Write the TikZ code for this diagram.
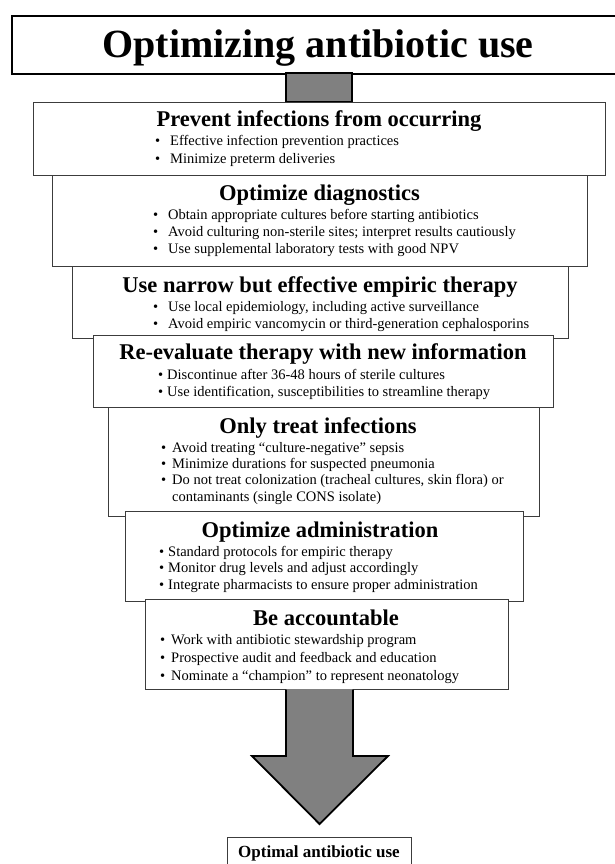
\documentclass[tikz,border=0pt]{standalone}
\usepackage{fontspec}
\setmainfont{Liberation Serif}
\definecolor{boxgray}{RGB}{60,60,60}
\definecolor{arrowgray}{RGB}{128,128,128}
\newcommand\itm[4]{\node[itm] (#1) at (#2) {\makebox[#3pt][l]{•}#4};}
\begin{document}
\begin{tikzpicture}[x=1pt,y=-1pt,
  stepbox/.style={draw=boxgray, line width=1.2pt, fill=white, inner sep=0pt, anchor=north west},
  head/.style={font=\fontsize{22.5}{27}\selectfont\bfseries, anchor=base, inner sep=0pt},
  itm/.style={font=\fontsize{14.5}{17}\selectfont, anchor=base west, inner sep=0pt},
  blockarrow/.style={fill=arrowgray, draw=black, line width=1.8pt, line join=miter}
]
\useasboundingbox (0,0) rectangle (614,864);
\fill[white] (0,0) rectangle (614,864);

% title
\node[draw=black, line width=2pt, fill=white, inner sep=0pt, anchor=north west,
      minimum width=612, minimum height=58] (title) at (11,15) {};
\node[font=\fontsize{40}{48}\selectfont\bfseries, anchor=base, inner sep=0pt] (ttext) at (318,58) {Optimizing antibiotic use};

% stem
\draw[blockarrow, line width=1.5pt] (286,73) rectangle (352,102);

% box 1
\node[stepbox, minimum width=572, minimum height=73] (b1) at (33,102) {};
\node[head] (h1) at (319,127) {Prevent infections from occurring};
\itm{b1a}{155,146}{15}{Effective infection prevention practices}
\itm{b1b}{155,163}{15}{Minimize preterm deliveries}

% box 2
\node[stepbox, minimum width=535, minimum height=91] (b2) at (52,175) {};
\node[head] (h2) at (319.5,200) {Optimize diagnostics};
\itm{b2a}{153,219}{15}{Obtain appropriate cultures before starting antibiotics}
\itm{b2b}{153,236}{15}{Avoid culturing non-sterile sites; interpret results cautiously}
\itm{b2c}{153,253}{15}{Use supplemental laboratory tests with good NPV}

% box 3
\node[stepbox, minimum width=496, minimum height=72] (b3) at (72,266) {};
\node[head] (h3) at (320,292) {Use narrow but effective empiric therapy};
\itm{b3a}{153,311}{15}{Use local epidemiology, including active surveillance}
\itm{b3b}{153,328}{15}{Avoid empiric vancomycin or third-generation cephalosporins}

% box 4
\node[stepbox, minimum width=460, minimum height=72] (b4) at (93,335) {};
\node[head] (h4) at (323,359) {Re-evaluate therapy with new information};
\itm{b4a}{158,379}{9}{Discontinue after 36-48 hours of sterile cultures}
\itm{b4b}{158,396}{9}{Use identification, susceptibilities to streamline therapy}

% box 5
\node[stepbox, minimum width=431, minimum height=109] (b5) at (108,407) {};
\node[head] (h5) at (318,433) {Only treat infections};
\itm{b5a}{161,452}{11}{Avoid treating “culture-negative” sepsis}
\itm{b5b}{161,468}{11}{Minimize durations for suspected pneumonia}
\itm{b5c}{161,484}{11}{Do not treat colonization (tracheal cultures, skin flora) or}
\node[itm] (b5d) at (172,501) {contaminants (single CONS isolate)};

% box 6
\node[stepbox, minimum width=398, minimum height=90] (b6) at (125,511) {};
\node[head] (h6) at (320,537) {Optimize administration};
\itm{b6a}{159,556}{9}{Standard protocols for empiric therapy}
\itm{b6b}{159,572}{9}{Monitor drug levels and adjust accordingly}
\itm{b6c}{159,589}{9}{Integrate pharmacists to ensure proper administration}

% box 7
\node[stepbox, minimum width=363, minimum height=90] (b7) at (145,599) {};
\node[head] (h7) at (326,625) {Be accountable};
\itm{b7a}{160,644}{11}{Work with antibiotic stewardship program}
\itm{b7b}{160,662}{11}{Prospective audit and feedback and education}
\itm{b7c}{160,680}{11}{Nominate a “champion” to represent neonatology}

% big arrow
\fill[arrowgray] (286,689) -- (286,756) -- (252,756) -- (319.5,824) -- (388,756) -- (353,756) -- (353,689) -- cycle;
\draw[blockarrow, fill=none] (286,689.6) -- (286,756) -- (252,756) -- (319.5,824) -- (388,756) -- (353,756) -- (353,689.6);

% output box
\node[stepbox, minimum width=184, minimum height=40] (out) at (227,837) {};
\node[font=\fontsize{17}{20}\selectfont\bfseries, anchor=base, inner sep=0pt] (otext) at (319,857) {Optimal antibiotic use};
\end{tikzpicture}
\end{document}
